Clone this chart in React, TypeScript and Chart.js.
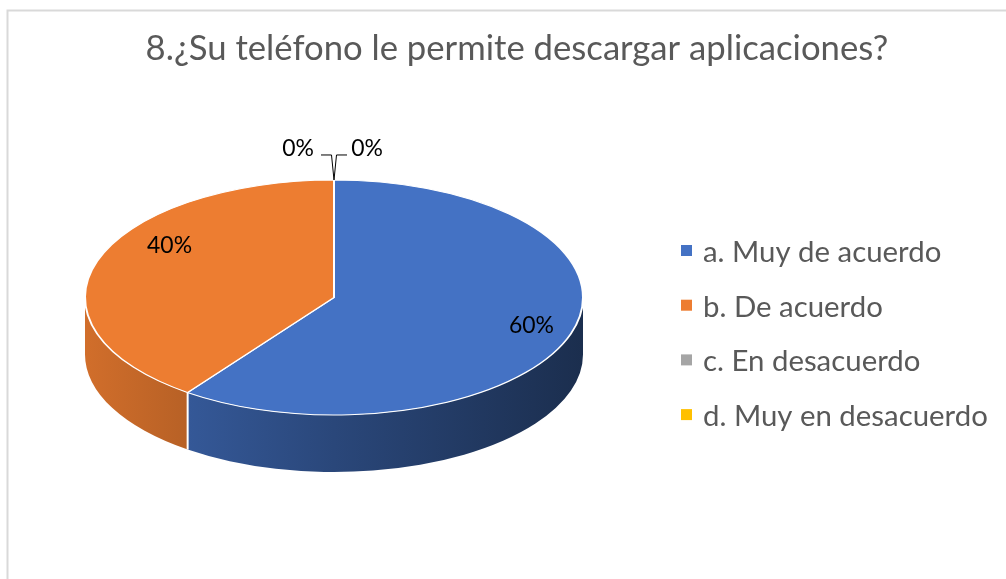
import React, { useEffect, useRef } from "react";
import { Chart, registerables } from "chart.js";

Chart.register(...registerables);

// ---------- data ----------
const TITLE = "8.¿Su teléfono le permite descargar aplicaciones?";
const categories = ["a. Muy de acuerdo", "b. De acuerdo", "c. En desacuerdo", "d. Muy en desacuerdo"];
const percentages = [60, 40, 0, 0];
const percentLabels = ["60%", "40%", "0%", "0%"];
const sliceColors = ["#4472C4", "#ED7D31", "#A5A5A5", "#FFC000"];

// ---------- styling ----------
const W = 1006;
const H = 579;
const FONT = "Lato, 'Open Sans', 'DejaVu Sans', sans-serif";
const TEXT_GRAY = "#595959";
const TILT = 0.472; // vertical squash of the pie top
const DEPTH = 57; // thickness of the 3D side
const LABEL_FRAC = 0.8;
const labelNudge = [
  [8, 0],
  [25, -22],
];

function shade(hex: string, f: number) {
  const n = parseInt(hex.slice(1), 16);
  const r = Math.round(((n >> 16) & 255) * f);
  const g = Math.round(((n >> 8) & 255) * f);
  const b = Math.round((n & 255) * f);
  return `rgb(${r},${g},${b})`;
}

function fitSize(ctx: CanvasRenderingContext2D, text: string, width: number) {
  ctx.font = `100px ${FONT}`;
  const w = ctx.measureText(text).width;
  return (100 * width) / w;
}

const pie3d = {
  id: "pie3d",
  beforeDraw(chart: any) {
    const ctx: CanvasRenderingContext2D = chart.ctx;
    ctx.save();
    ctx.fillStyle = "#ffffff";
    ctx.fillRect(0, 0, chart.width, chart.height);
    ctx.strokeStyle = "#d9d9d9";
    ctx.lineWidth = 2;
    ctx.beginPath();
    ctx.moveTo(7.5, chart.height + 5);
    ctx.lineTo(7.5, 10.5);
    ctx.lineTo(chart.width + 5, 10.5);
    ctx.stroke();
    ctx.restore();
  },
  beforeDatasetsDraw(chart: any) {
    const ctx: CanvasRenderingContext2D = chart.ctx;
    const meta = chart.getDatasetMeta(0);
    const a0el = meta.data[0];
    const cx = a0el.x;
    const cy = a0el.y;
    const rx = a0el.outerRadius;
    const ry = rx * TILT;
    const colors = chart.data.datasets[0].backgroundColor as string[];
    ctx.save();
    meta.data.forEach((arc: any, i: number) => {
      const s = Math.max(arc.startAngle, 0);
      const e = Math.min(arc.endAngle, Math.PI);
      if (e - s <= 1e-6) return;
      const grad = ctx.createLinearGradient(cx - rx, 0, cx + rx, 0);
      grad.addColorStop(0, shade(colors[i], 0.88));
      grad.addColorStop(0.5, shade(colors[i], 0.62));
      grad.addColorStop(1, shade(colors[i], 0.4));
      ctx.fillStyle = grad;
      ctx.beginPath();
      ctx.ellipse(cx, cy, rx, ry, 0, s, e, false);
      ctx.lineTo(cx + rx * Math.cos(e), cy + DEPTH + ry * Math.sin(e));
      ctx.ellipse(cx, cy + DEPTH, rx, ry, 0, e, s, true);
      ctx.closePath();
      ctx.fill();
    });
    // white separators on the side
    ctx.strokeStyle = "#ffffff";
    ctx.lineWidth = 2;
    meta.data.forEach((arc: any) => {
      const e = arc.endAngle;
      if (e > 0 && e < Math.PI) {
        const x = cx + rx * Math.cos(e);
        const y = cy + ry * Math.sin(e);
        ctx.beginPath();
        ctx.moveTo(x, y);
        ctx.lineTo(x, y + DEPTH);
        ctx.stroke();
      }
    });
    ctx.restore();
    ctx.save();
    ctx.translate(0, cy);
    ctx.scale(1, TILT);
    ctx.translate(0, -cy);
  },
  afterDatasetsDraw(chart: any) {
    const ctx: CanvasRenderingContext2D = chart.ctx;
    ctx.restore();
    const meta = chart.getDatasetMeta(0);
    const a0el = meta.data[0];
    const cx = a0el.x;
    const cy = a0el.y;
    const rx = a0el.outerRadius;
    const ry = rx * TILT;
    ctx.save();

    // data labels
    const lblSize = fitSize(ctx, "60%", 45);
    ctx.font = `${lblSize}px ${FONT}`;
    ctx.fillStyle = "#000000";
    ctx.textAlign = "center";
    ctx.textBaseline = "alphabetic";
    let zeroCount = 0;
    meta.data.forEach((arc: any, i: number) => {
      const mid = (arc.startAngle + arc.endAngle) / 2;
      if (percentages[i] > 0) {
        const nx = labelNudge[i] ? labelNudge[i][0] : 0;
        const ny = labelNudge[i] ? labelNudge[i][1] : 0;
        const x = cx + rx * LABEL_FRAC * Math.cos(mid) + nx;
        const y = cy + ry * LABEL_FRAC * Math.sin(mid) + ny + lblSize * 0.28;
        ctx.fillText(percentLabels[i], x, y);
      } else {
        const ax = cx + rx * Math.cos(mid);
        const ay = cy + ry * Math.sin(mid);
        const side = zeroCount === 0 ? -1 : 1;
        zeroCount++;
        ctx.strokeStyle = "#000000";
        ctx.lineWidth = 1;
        ctx.beginPath();
        ctx.moveTo(ax, ay);
        ctx.lineTo(ax + side * 2.5, ay - 25);
        ctx.lineTo(ax + side * 13, ay - 25);
        ctx.stroke();
        ctx.fillText(percentLabels[i], ax + (side < 0 ? -36 : 33), ay - 24);
      }
    });

    // title
    const tSize = fitSize(ctx, TITLE, 743);
    ctx.font = `${tSize}px ${FONT}`;
    ctx.fillStyle = TEXT_GRAY;
    ctx.textAlign = "center";
    ctx.fillText(TITLE, 517, 59.5);

    // legend
    const lSize = fitSize(ctx, categories[3], 285);
    ctx.font = `${lSize}px ${FONT}`;
    ctx.textAlign = "left";
    const colors = chart.data.datasets[0].backgroundColor as string[];
    categories.forEach((c, i) => {
      const base = 262 + i * 54.7;
      ctx.fillStyle = colors[i];
      ctx.fillRect(681, base - 17, 11, 11);
      ctx.fillStyle = TEXT_GRAY;
      ctx.fillText(c, 703, base);
    });
    ctx.restore();
  },
};

export default function App() {
  const ref = useRef<HTMLCanvasElement | null>(null);
  useEffect(() => {
    if (!ref.current) return;
    const chart = new Chart(ref.current, {
      type: "pie",
      data: {
        labels: categories,
        datasets: [
          {
            data: percentages,
            backgroundColor: sliceColors,
            borderColor: "#ffffff",
            borderWidth: 2,
            hoverOffset: 0,
            clip: false as any,
          },
        ],
      },
      options: {
        animation: false,
        responsive: false,
        devicePixelRatio: 1,
        layout: { padding: { left: 84, right: W - 584, top: 47.5, bottom: H - 547.5 } },
        plugins: {
          legend: { display: false },
          title: { display: false },
          tooltip: { enabled: false },
        },
        events: [],
      },
      plugins: [pie3d],
    });
    return () => chart.destroy();
  }, []);
  return (
    <div style={{ position: "fixed", left: 0, top: 0, width: W, height: H, overflow: "hidden", background: "#fff" }}>
      <canvas ref={ref} width={W} height={H} style={{ display: "block" }} />
    </div>
  );
}
